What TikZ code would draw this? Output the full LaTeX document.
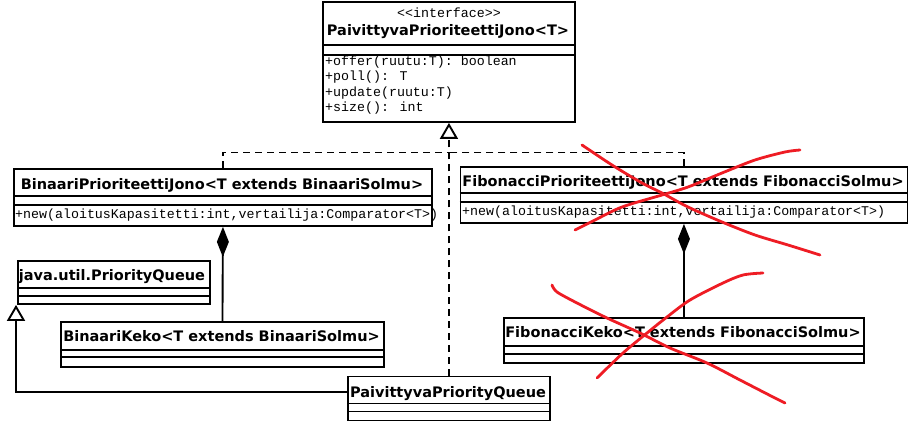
\documentclass[tikz,border=0pt]{standalone}
\usepackage{fontspec}
\newfontfamily\titlefont{DejaVu Sans}
\newfontfamily\monofont{Liberation Mono}
\usetikzlibrary{arrows.meta,calc}
\definecolor{scribble}{HTML}{EE1C24}
\begin{document}
\begin{tikzpicture}[x=1pt,y=-1pt,
  classbox/.style={draw, line width=1.9pt, inner sep=0pt, anchor=north west},
  sep/.style={line width=1.9pt},
  title/.style={font=\titlefont\bfseries\fontsize{14.5}{16}\selectfont, inner sep=0pt, anchor=base},
  meth/.style={font=\monofont\fontsize{13.3}{15}\selectfont, anchor=west, inner sep=0pt},
  conn/.style={line width=1.9pt},
  dashconn/.style={line width=1.9pt, dash pattern=on 7pt off 5pt},
  gentip/.style={-{Triangle[open,length=16pt,width=18pt,line width=1.9pt]}},
  comptip/.style={{Diamond[length=30pt,width=12pt]}-},
  redmark/.style={scribble, line width=2.8pt, line cap=round, line join=round}
]
\useasboundingbox (0,0) rectangle (908,422);

% class boxes
\node[classbox, minimum width=252pt, minimum height=120pt] (iface) at (322,1) {};
\node[classbox, minimum width=418pt, minimum height=57pt] (bpj) at (13,168) {};
\node[classbox, minimum width=447pt, minimum height=56pt] (fpj) at (459.5,166) {};
\node[classbox, minimum width=192pt, minimum height=43pt] (jpq) at (17,260) {};
\node[classbox, minimum width=323pt, minimum height=45pt] (bk) at (60,321) {};
\node[classbox, minimum width=202pt, minimum height=44pt] (ppq) at (347,375.5) {};
\node[classbox, minimum width=360pt, minimum height=45pt] (fk) at (503,317) {};

% compartments
\draw[sep] ($(iface.north west)+(0,44)$) -- ($(iface.north east)+(0,44)$);
\draw[sep] ($(iface.north west)+(0,54)$) -- ($(iface.north east)+(0,54)$);
\draw[sep] ($(bpj.north west)+(0,28)$) -- ($(bpj.north east)+(0,28)$);
\draw[sep] ($(bpj.north west)+(0,37)$) -- ($(bpj.north east)+(0,37)$);
\draw[sep] ($(fpj.north west)+(0,27)$) -- ($(fpj.north east)+(0,27)$);
\draw[sep] ($(fpj.north west)+(0,36)$) -- ($(fpj.north east)+(0,36)$);
\draw[sep] ($(jpq.north west)+(0,28)$) -- ($(jpq.north east)+(0,28)$);
\draw[sep] ($(jpq.north west)+(0,36)$) -- ($(jpq.north east)+(0,36)$);
\draw[sep] ($(bk.north west)+(0,29)$) -- ($(bk.north east)+(0,29)$);
\draw[sep] ($(bk.north west)+(0,36)$) -- ($(bk.north east)+(0,36)$);
\draw[sep] ($(ppq.north west)+(0,28)$) -- ($(ppq.north east)+(0,28)$);
\draw[sep] ($(ppq.north west)+(0,36)$) -- ($(ppq.north east)+(0,36)$);
\draw[sep] ($(fk.north west)+(0,29)$) -- ($(fk.north east)+(0,29)$);
\draw[sep] ($(fk.north west)+(0,37)$) -- ($(fk.north east)+(0,37)$);

% texts
\node[meth, anchor=center] (ifst) at (449,13) {<<interface>>};
\node[title] (ifname) at (448,36) {PaivittyvaPrioriteettiJono<T>};
\node[meth] (m1) at (325,62) {+offer(ruutu:T): boolean};
\node[meth] (m2) at (325,77.5) {+poll(): T};
\node[meth] (m3) at (325,93) {+update(ruutu:T)};
\node[meth] (m4) at (325,108.5) {+size(): int};
\node[title] (bpjname) at (222,190) {BinaariPrioriteettiJono<T extends BinaariSolmu>};
\node[meth] (bpjm) at (15,215.5) {+new(aloitusKapasitetti:int,vertailija:Comparator<T>)};
\node[title] (fpjname) at (683,187) {FibonacciPrioriteettiJono<T extends FibonacciSolmu>};
\node[meth] (fpjm) at (462,212.5) {+new(aloitusKapasitetti:int,vertailija:Comparator<T>)};
\node[title] (jpqname) at (112,280) {java.util.PriorityQueue};
\node[title] (bkname) at (221.5,341) {BinaariKeko<T extends BinaariSolmu>};
\node[title] (ppqname) at (448,397) {PaivittyvaPriorityQueue};
\node[title] (fkname) at (683,337) {FibonacciKeko<T extends FibonacciSolmu>};

% connectors
\coordinate (j1) at (448,152.5);
\draw[dashconn] (bpj.north) |- (j1);
\draw[dashconn] (fpj.north) |- (j1);
\draw[dashconn, gentip] (ppq.north) -- (iface.south);
\draw[conn, comptip] (bpj.south) -- (bk.north);
\draw[conn, comptip] (fpj.south) -- (fk.north);
\draw[conn, gentip] ($(ppq.west)+(0,-6.5)$) -| ($(jpq.south west)+(-1,0)$);

% red cross-outs
\draw[redmark] plot[smooth] coordinates {(582,145) (612,165) (642,183) (662,193) (688,207) (722,222) (755,235) (788,245) (820,255)};
\draw[redmark] plot[smooth] coordinates {(800,150) (785,152) (755,160) (722,173) (688,187) (662,195) (622,207) (595,220) (575,230)};
\draw[redmark] plot[smooth] coordinates {(552,285) (557,292) (577,303) (607,318) (640,333) (670,348) (707,363) (740,380) (773,397) (785,403)};
\draw[redmark] plot[smooth] coordinates {(763,273) (743,275) (723,283) (690,300) (667,317) (647,333) (623,353) (597,378)};
\end{tikzpicture}
\end{document}
